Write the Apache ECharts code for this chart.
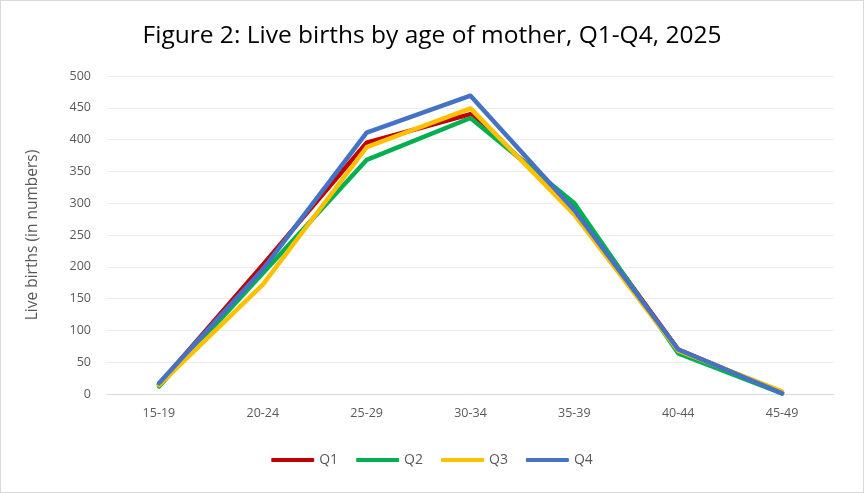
<!DOCTYPE html>
<html lang="en">
<head>
    <meta charset="utf-8"/>
    <title>Live births by age of mother</title>
    <script src="https://cdn.jsdelivr.net/npm/echarts@6/dist/echarts.min.js"></script>
    <style>
        html, body { margin: 0; padding: 0; background: #fff; }
        #chart { width: 862px; height: 491px; border: 1px solid #d9d9d9; }
    </style>
</head>
<body>
<div id="chart"></div>
<script>
    // age groups of mother
    const ageGroups = ['15-19', '20-24', '25-29', '30-34', '35-39', '40-44', '45-49'];
    // live births per quarter
    const q1 = [15, 203, 395, 440, 294, 70, 2];
    const q2 = [12, 190, 368, 434, 300, 64, 1];
    const q3 = [14, 172, 388, 449, 282, 68, 4];
    const q4 = [17, 196, 411, 469, 289, 70, 1];
    const quarterNames = ['Q1', 'Q2', 'Q3', 'Q4'];
    const quarterColors = ['#C00000', '#00B050', '#FFC000', '#4472C4'];

    const chart = echarts.init(document.getElementById('chart'));
    const allData = [q1, q2, q3, q4];

    const option = {
        animation: false,
        title: {
            text: 'Figure 2: Live births by age of mother, Q1-Q4, 2025',
            left: 'center',
            top: 18,
            textStyle: { fontFamily: 'Open Sans', fontSize: 24.5, fontWeight: 'normal', color: '#000' }
        },
        legend: {
            bottom: 20,
            left: 'center',
            itemWidth: 43,
            itemHeight: 4,
            itemGap: 18,
            icon: 'roundRect',
            textStyle: { fontFamily: 'Open Sans', fontSize: 14, color: '#595959' },
            data: quarterNames
        },
        grid: { left: 106, right: 29, top: 75, bottom: 98 },
        xAxis: {
            type: 'category',
            data: ageGroups,
            boundaryGap: true,
            axisLine: { lineStyle: { color: '#d9d9d9', width: 1 } },
            axisTick: { show: false },
            axisLabel: { fontFamily: 'Open Sans', fontSize: 12.5, color: '#595959', margin: 13 }
        },
        yAxis: {
            type: 'value',
            min: 0,
            max: 500,
            interval: 50,
            name: 'Live births (in numbers)',
            nameLocation: 'middle',
            nameGap: 66,
            nameTextStyle: { fontFamily: 'Open Sans', fontSize: 15.5, color: '#595959' },
            axisLine: { show: false },
            axisTick: { show: false },
            splitLine: { lineStyle: { color: '#ececec', width: 1 } },
            axisLabel: { fontFamily: 'Open Sans', fontSize: 12.5, color: '#595959', margin: 16 }
        },
        series: quarterNames.map(function (name, i) {
            return {
                name: name,
                type: 'line',
                data: allData[i],
                showSymbol: false,
                symbol: 'none',
                lineStyle: { color: quarterColors[i], width: 4.5, cap: 'round', join: 'round' },
                itemStyle: { color: quarterColors[i] }
            };
        })
    };
    chart.setOption(option);
</script>
</body>
</html>
